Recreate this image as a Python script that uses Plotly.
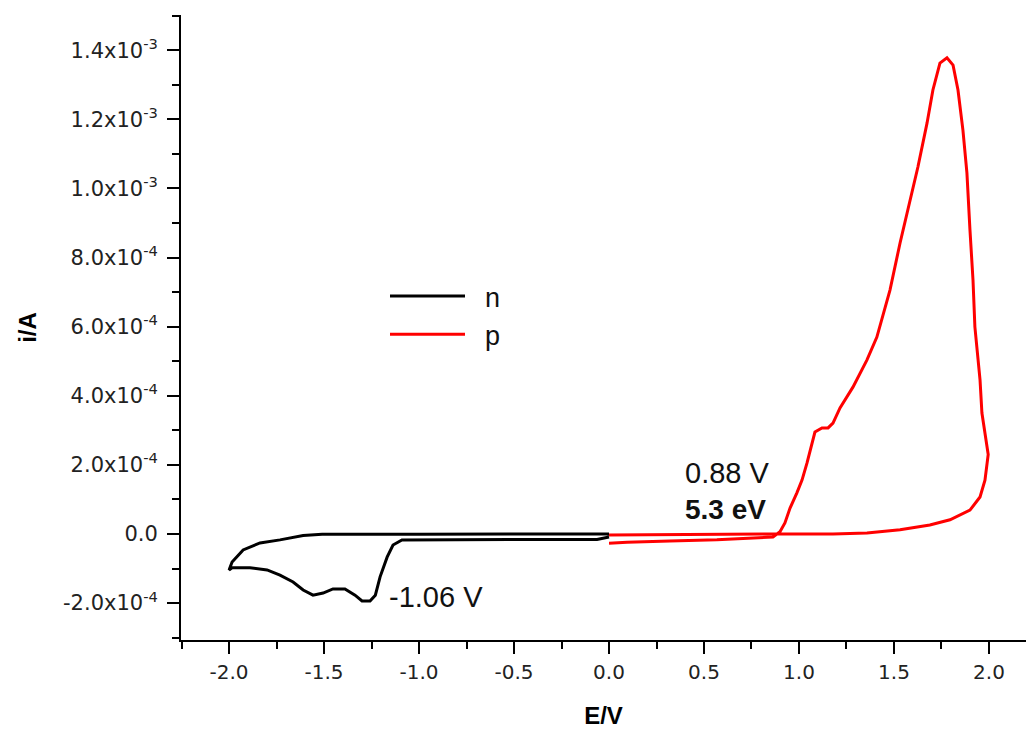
import plotly.graph_objects as go

# ---- data (E in V, i in A) ----
n_E = [0.0, -0.063, -0.50, -0.94, -1.09, -1.137, -1.168, -1.205, -1.23, -1.258, -1.30,
       -1.337, -1.39, -1.453, -1.505, -1.558, -1.61, -1.663, -1.732, -1.80, -1.89, -1.984,
       -2.0, -1.984, -1.926, -1.837, -1.732, -1.61, -1.51, -1.0, -0.5, 0.0]
n_I = [-0.87e-5, -1.6e-5, -1.6e-5, -1.6e-5, -1.74e-5, -3.2e-5, -6.7e-5, -1.24e-4, -1.77e-4,
       -1.94e-4, -1.94e-4, -1.77e-4, -1.59e-4, -1.59e-4, -1.71e-4, -1.77e-4, -1.62e-4,
       -1.39e-4, -1.19e-4, -1.04e-4, -0.98e-4, -0.98e-4, -1.04e-4, -0.81e-4, -0.46e-4,
       -0.26e-4, -0.17e-4, -0.43e-5, -0.1e-5, -0.05e-5, 0.0, 0.0]

p_E = [0.0, 0.095, 0.32, 0.568, 0.863, 0.90, 0.926, 0.953, 0.989, 1.016, 1.042, 1.068,
       1.084, 1.121, 1.153, 1.179, 1.216, 1.284, 1.358, 1.41, 1.479, 1.532, 1.584, 1.626,
       1.674, 1.705, 1.742, 1.779, 1.811, 1.837, 1.863, 1.884, 1.90, 1.916, 1.926, 1.953,
       1.963, 1.989, 1.996, 1.979, 1.953, 1.90, 1.795, 1.689, 1.532, 1.358, 1.179, 0.90,
       0.50, 0.0]
p_I = [-2.7e-5, -2.4e-5, -2.0e-5, -1.65e-5, -0.87e-5, 0.67e-5, 3.2e-5, 7.5e-5, 1.19e-4,
       1.56e-4, 2.05e-4, 2.66e-4, 2.95e-4, 3.07e-4, 3.07e-4, 3.21e-4, 3.65e-4, 4.25e-4,
       5.04e-4, 5.7e-4, 7.06e-4, 8.42e-4, 9.67e-4, 1.062e-3, 1.189e-3, 1.285e-3, 1.363e-3,
       1.378e-3, 1.357e-3, 1.285e-3, 1.169e-3, 1.045e-3, 8.8e-4, 7.35e-4, 5.99e-4, 4.46e-4,
       3.5e-4, 2.52e-4, 2.3e-4, 1.56e-4, 1.07e-4, 0.69e-4, 0.41e-4, 0.26e-4, 0.12e-4,
       0.03e-4, -0.01e-5, 0.0, -0.1e-5, -0.3e-5]

y_tick_vals = [-2e-4, 0.0, 2e-4, 4e-4, 6e-4, 8e-4, 1.0e-3, 1.2e-3, 1.4e-3]
y_tick_text = ["-2.0x10<sup>-4</sup>", "0.0", "2.0x10<sup>-4</sup>", "4.0x10<sup>-4</sup>",
               "6.0x10<sup>-4</sup>", "8.0x10<sup>-4</sup>", "1.0x10<sup>-3</sup>",
               "1.2x10<sup>-3</sup>", "1.4x10<sup>-3</sup>"]
x_tick_vals = [-2.0, -1.5, -1.0, -0.5, 0.0, 0.5, 1.0, 1.5, 2.0]
x_tick_text = ["-2.0", "-1.5", "-1.0", "-0.5", "0.0", "0.5", "1.0", "1.5", "2.0"]

labels = [("-1.06 V", -1.17, -1.82e-4, False, 29),
          ("0.88 V", 0.39, 1.77e-4, False, 29),
          ("5.3 eV", 0.39, 0.70e-4, True, 28)]

FONT = "Liberation Sans, Arial, sans-serif"
TICKFONT = "DejaVu Sans, sans-serif"

fig = go.Figure()
fig.add_trace(go.Scatter(x=n_E, y=n_I, mode="lines", name="\u00a0\u00a0n",
                         line=dict(color="#000000", width=3)))
fig.add_trace(go.Scatter(x=p_E, y=p_I, mode="lines", name="\u00a0\u00a0p",
                         line=dict(color="#ff0000", width=3)))

for txt, xv, yv, bold, sz in labels:
    fig.add_annotation(x=xv, y=yv, xref="x", yref="y", text=f"<b>{txt}</b>" if bold else txt,
                       showarrow=False, xanchor="left", yanchor="middle",
                       font=dict(family=FONT, size=sz, color="#111"))

fig.update_layout(
    template="none",
    width=1026, height=729,
    margin=dict(l=181, r=0, t=15, b=89, pad=0),
    paper_bgcolor="white", plot_bgcolor="white",
    font=dict(family=FONT, color="#222"),
    showlegend=True,
    legend=dict(x=(385 - 181) / 845, y=(640 - 272) / 625, xanchor="left", yanchor="top",
                bgcolor="rgba(0,0,0,0)", borderwidth=0,
                font=dict(family=FONT, size=27, color="#111"),
                itemwidth=75, tracegroupgap=0),
    xaxis=dict(range=[-2.253, 2.195], showgrid=False, zeroline=False, automargin=False,
               showline=True, linecolor="black", linewidth=2,
               tickmode="array", tickvals=x_tick_vals, ticktext=x_tick_text,
               ticks="outside", ticklen=12, tickwidth=2, tickcolor="black",
               ticklabelstandoff=1,
               tickfont=dict(family=TICKFONT, size=20, color="#222"),
               minor=dict(dtick=0.25, tick0=0, ticks="outside", ticklen=7, tickwidth=2,
                          tickcolor="black", showgrid=False),
               title=dict(text="<b>E/V</b>", font=dict(family=FONT, size=24, color="#000"),
                          standoff=27)),
    yaxis=dict(range=[-3.068e-4, 1.502e-3], showgrid=False, zeroline=False, automargin=False,
               showline=True, linecolor="black", linewidth=2,
               tickmode="array", tickvals=y_tick_vals, ticktext=y_tick_text,
               ticks="outside", ticklen=12, tickwidth=2, tickcolor="black",
               ticklabelstandoff=5,
               tickfont=dict(family=TICKFONT, size=21, color="#222"),
               minor=dict(dtick=1e-4, tick0=0, ticks="outside", ticklen=7, tickwidth=2,
                          tickcolor="black", showgrid=False),
               title=dict(text="<b>i/A</b>", font=dict(family=FONT, size=24, color="#000"),
                          standoff=20)),
)

fig.write_html("out.html", config={"displayModeBar": False},
               post_script="document.body.style.margin='0';document.body.style.overflow='hidden';")
